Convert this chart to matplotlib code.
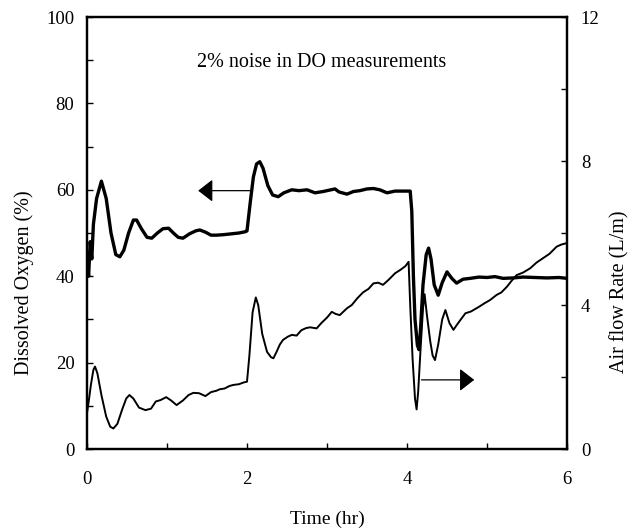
import matplotlib
matplotlib.use("Agg")
import matplotlib.pyplot as plt
from matplotlib.ticker import MultipleLocator

plt.rcParams['font.family'] = ['Liberation Serif', 'DejaVu Serif']

# Dissolved oxygen (%) vs time (hr) -- thick line, left axis
do_time = [0.00, 0.02, 0.04, 0.06, 0.08, 0.12, 0.18, 0.24, 0.30, 0.36, 0.41, 0.46,
           0.52, 0.58, 0.62, 0.68, 0.75, 0.81, 0.88, 0.95, 1.02, 1.08, 1.14, 1.20,
           1.28, 1.36, 1.41, 1.48, 1.55, 1.62, 1.70, 1.80, 1.90, 1.98, 2.00, 2.04,
           2.08, 2.12, 2.16, 2.20, 2.26, 2.32, 2.39, 2.46, 2.56, 2.65, 2.75, 2.85,
           2.95, 3.05, 3.10, 3.15, 3.25, 3.33, 3.41, 3.50, 3.58, 3.66, 3.75, 3.85,
           3.95, 4.04, 4.06, 4.08, 4.10, 4.13, 4.15, 4.17, 4.20, 4.24, 4.27, 4.30,
           4.34, 4.39, 4.44, 4.50, 4.56, 4.62, 4.70, 4.79, 4.90, 5.00, 5.10, 5.20,
           5.33, 5.45, 5.60, 5.75, 5.90, 6.00]
do_values = [45, 40, 48, 44, 52, 58, 62, 58, 50, 45, 44.5, 46,
             50, 53, 53, 51, 49, 48.8, 50, 51, 51.1, 50, 49, 48.8,
             49.8, 50.5, 50.7, 50.2, 49.5, 49.5, 49.6, 49.8, 50.0, 50.3, 50.5, 57,
             63, 66, 66.5, 65, 61, 58.8, 58.4, 59.3, 60, 59.8, 60, 59.3,
             59.6, 60, 60.2, 59.5, 59, 59.6, 59.8, 60.2, 60.3, 60, 59.3, 59.7,
             59.7, 59.7, 55, 40, 30, 24, 23, 28, 38, 45, 46.5, 44,
             38, 35.6, 38.5, 41, 39.5, 38.4, 39.3, 39.5, 39.8, 39.7, 39.9, 39.5,
             39.6, 39.8, 39.7, 39.6, 39.7, 39.5]

# Air flow rate (L/m) vs time (hr) -- thin line, right axis
air_time = [0.00, 0.02, 0.05, 0.08, 0.10, 0.13, 0.18, 0.24, 0.29, 0.33, 0.38, 0.44,
            0.49, 0.53, 0.58, 0.65, 0.73, 0.80, 0.86, 0.92, 0.99, 1.05, 1.12, 1.20,
            1.27, 1.33, 1.40, 1.48, 1.55, 1.62, 1.66, 1.72, 1.78, 1.83, 1.90, 1.96,
            2.00, 2.03, 2.07, 2.11, 2.14, 2.19, 2.25, 2.30, 2.33, 2.37, 2.41, 2.45,
            2.51, 2.56, 2.62, 2.68, 2.74, 2.79, 2.87, 2.93, 3.00, 3.06, 3.11, 3.16,
            3.25, 3.31, 3.38, 3.45, 3.52, 3.58, 3.64, 3.70, 3.77, 3.85, 3.92, 3.98,
            4.02, 4.04, 4.07, 4.10, 4.12, 4.14, 4.17, 4.20, 4.22, 4.25, 4.29, 4.32,
            4.35, 4.39, 4.44, 4.48, 4.53, 4.58, 4.64, 4.73, 4.80, 4.90, 4.97, 5.04,
            5.12, 5.18, 5.25, 5.31, 5.37, 5.45, 5.54, 5.62, 5.70, 5.78, 5.87, 5.93,
            6.00]
air_values = [1.0, 1.3, 1.8, 2.2, 2.29, 2.1, 1.5, 0.9, 0.62, 0.57, 0.7, 1.1,
              1.4, 1.5, 1.4, 1.15, 1.08, 1.12, 1.32, 1.36, 1.44, 1.35, 1.22, 1.35,
              1.5, 1.56, 1.55, 1.47, 1.58, 1.62, 1.66, 1.68, 1.75, 1.78, 1.80, 1.85,
              1.87, 2.6, 3.8, 4.21, 4.0, 3.2, 2.7, 2.55, 2.52, 2.7, 2.9, 3.03,
              3.12, 3.17, 3.15, 3.3, 3.36, 3.38, 3.35, 3.5, 3.65, 3.81, 3.75, 3.72,
              3.91, 4.0, 4.19, 4.35, 4.45, 4.6, 4.62, 4.56, 4.7, 4.88, 4.98, 5.08,
              5.2, 4.0, 2.5, 1.4, 1.1, 1.6, 2.8, 3.9, 4.3, 3.7, 3.0, 2.6,
              2.47, 2.9, 3.6, 3.86, 3.5, 3.31, 3.5, 3.77, 3.82, 3.95, 4.05, 4.14,
              4.28, 4.35, 4.51, 4.68, 4.83, 4.9, 5.02, 5.18, 5.3, 5.42, 5.62, 5.68,
              5.72]

x_ticks = [0, 2, 4, 6]
do_ticks = [0, 20, 40, 60, 80, 100]
air_ticks = [0, 4, 8, 12]

fig = plt.figure(figsize=(6.33, 5.30), dpi=100)
ax = fig.add_axes([87/633, 81/530, 480/633, 432/530])
ax2 = ax.twinx()

ax.plot(do_time, do_values, color='black', lw=2.4, solid_joinstyle='round')
ax2.plot(air_time, air_values, color='black', lw=1.4, solid_joinstyle='round')

ax.set_xlim(0, 6)
ax.set_ylim(0, 100)
ax2.set_ylim(0, 12)

ax.set_xticks(x_ticks)
ax.set_xticklabels([str(v) for v in x_ticks])
ax.xaxis.set_minor_locator(MultipleLocator(1))
ax.set_yticks(do_ticks)
ax.set_yticklabels([str(v) for v in do_ticks])
ax.yaxis.set_minor_locator(MultipleLocator(10))
ax2.set_yticks(air_ticks)
ax2.set_yticklabels([str(v) for v in air_ticks])
ax2.yaxis.set_minor_locator(MultipleLocator(2))

ax.tick_params(axis='x', which='both', direction='in', top=False, bottom=True,
               length=4, width=1, labelsize=13.5, pad=16)
ax.tick_params(axis='y', which='both', direction='in', left=True, right=False,
               length=4, width=1, labelsize=13.5, pad=9)
ax2.tick_params(axis='y', which='both', direction='in', left=False, right=True,
                length=4, width=1, labelsize=13.5, pad=10)

for a in (ax, ax2):
    for s in a.spines.values():
        s.set_linewidth(1.6)

ax.set_xlabel('Time (hr)', fontsize=14)
ax.xaxis.set_label_coords(0.5, -0.142)
ax.set_ylabel('Dissolved Oxygen (%)', fontsize=14.5)
ax.yaxis.set_label_coords(-0.11, 0.385)
ax2.set_ylabel('Air flow Rate (L/m)', fontsize=14.5)
ax2.yaxis.set_label_coords(1.09, 0.365)

ax.text(2.93, 89.4, '2% noise in DO measurements', fontsize=14.5,
        ha='center', va='center')

arrow_style = dict(arrowstyle='-|>,head_length=0.45,head_width=0.35',
                   color='black', lw=0.9, mutation_scale=20, shrinkA=0, shrinkB=0)
ax.annotate('', xy=(1.39, 59.8), xytext=(2.06, 59.8), arrowprops=arrow_style)
ax2.annotate('', xy=(4.84, 1.92), xytext=(4.18, 1.92), arrowprops=arrow_style)

fig.savefig('out.png', dpi=100)
